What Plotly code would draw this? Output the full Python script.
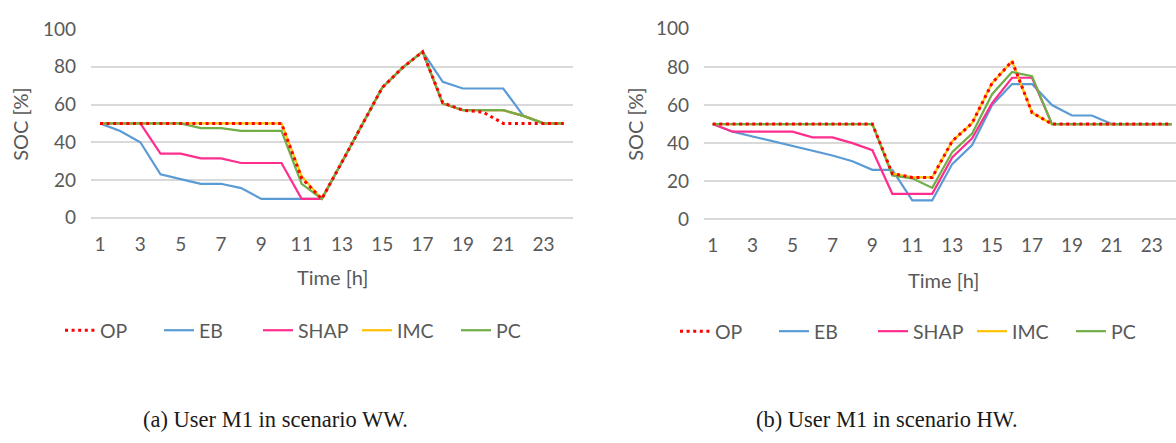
import plotly.graph_objects as go

# Hour of day (category axis)
hours = list(range(1, 25))
tick_hours = [1, 3, 5, 7, 9, 11, 13, 15, 17, 19, 21, 23]
soc_ticks = [0, 20, 40, 60, 80, 100]

# (a) User M1, scenario WW - state of charge [%]
op_ww = [50, 50, 50, 50, 50, 50, 50, 50, 50, 50, 21, 10, 29.5, 49.5, 69, 79.5, 88, 61, 57, 56, 50, 50, 50, 50]
eb_ww = [50, 46, 40, 23, 20.5, 18, 18, 15.7, 10, 10, 10, 10, 29.5, 49.5, 69, 79.5, 88, 72, 68.5, 68.5, 68.5, 54, 50, 50]
shap_ww = [50, 50, 50, 34, 34, 31.5, 31.5, 29, 29, 29, 10, 10, 29.5, 49.5, 69, 79.5, 88, 60.5, 57, 57, 57, 54, 50, 50]
imc_ww = [50, 50, 50, 50, 50, 50, 50, 50, 50, 50, 22, 10, 29.5, 49.5, 69, 79.5, 88, 60.5, 57, 57, 57, 54, 50, 50]
pc_ww = [50, 50, 50, 50, 50, 47.5, 47.5, 46, 46, 46, 18, 10, 29.5, 49.5, 69, 79.5, 88, 60.5, 57, 57, 57, 54, 50, 50]

# (b) User M1, scenario HW - state of charge [%]
op_hw = [50, 50, 50, 50, 50, 50, 50, 50, 50, 24, 22, 22, 41, 50.5, 71.5, 83, 56, 50, 50, 50, 50, 50, 50, 50]
eb_hw = [50, 46, 43.5, 41, 38.5, 36, 33.5, 30.5, 26, 26, 10, 10, 29, 39, 60, 71, 71, 60, 54.5, 54.5, 50, 50, 50, 50]
shap_hw = [50, 46, 46, 46, 46, 43, 43, 40, 36.3, 13.4, 13.4, 13.4, 32.5, 42.5, 61, 74.3, 74.3, 50, 50, 50, 50, 50, 50, 50]
imc_hw = [50, 50, 50, 50, 50, 50, 50, 50, 50, 24, 22, 22, 41, 50.5, 71.5, 83, 56, 50, 50, 50, 50, 50, 50, 50]
pc_hw = [50, 50, 50, 50, 50, 50, 50, 50, 50, 23, 21.5, 16.5, 35.3, 45, 65.7, 77.3, 75.1, 50, 50, 50, 50, 50, 50, 50]

methods = ["OP", "EB", "SHAP", "IMC", "PC"]
colors = {"OP": "#FF0000", "EB": "#5B9BD5", "SHAP": "#FF2D8E", "IMC": "#FFC000", "PC": "#70AD47"}
ww = {"OP": op_ww, "EB": eb_ww, "SHAP": shap_ww, "IMC": imc_ww, "PC": pc_ww}
hw = {"OP": op_hw, "EB": eb_hw, "SHAP": shap_hw, "IMC": imc_hw, "PC": pc_hw}

W, H = 1176, 443
TXT = "#595959"
GRID = "#D9D9D9"
FONT = "Lato, Carlito, 'Open Sans', sans-serif"
SERIF = "'Liberation Serif', 'Times New Roman', serif"

fig = go.Figure()

# draw order: EB, SHAP, IMC, PC, then the dotted OP on top
draw_order = ["EB", "SHAP", "IMC", "PC", "OP"]
for data, xa, ya, leg in [(ww, "x", "y", "legend"), (hw, "x2", "y2", "legend2")]:
    for m in draw_order:
        line = dict(color=colors[m], width=2.2)
        if m == "OP":
            line = dict(color=colors[m], width=3, dash="3px,3.6px")
        fig.add_trace(go.Scatter(
            x=hours, y=data[m], mode="lines", name=m, line=line,
            xaxis=xa, yaxis=ya, legend=leg,
            legendrank=methods.index(m) + 1, hoverinfo="skip",
        ))


def px_x(p):
    return p / W


def px_y(p):
    return 1 - p / H


xcommon = dict(
    tickmode="array", tickvals=tick_hours, showgrid=False, zeroline=False,
    showline=False, ticks="", tickfont=dict(size=19, color=TXT, family=FONT),
    ticklabelstandoff=13,
)
ycommon = dict(
    range=[0, 100], tickvals=soc_ticks, showgrid=True, gridcolor=GRID, gridwidth=1.5,
    zeroline=True, zerolinecolor=GRID, zerolinewidth=1.5, showline=False, ticks="",
    tickfont=dict(size=19, color=TXT, family=FONT), ticklabelstandoff=14,
)
legend_common = dict(orientation="h", xanchor="left", yanchor="middle", entrywidth=54,
                     font=dict(size=19.5, color=TXT, family=FONT), bgcolor="rgba(0,0,0,0)")

fig.update_layout(
    width=W, height=H, margin=dict(l=0, r=0, t=0, b=0),
    paper_bgcolor="white", plot_bgcolor="white",
    font=dict(family=FONT, color=TXT),
    xaxis=dict(domain=[px_x(91), px_x(573.4)], range=[0.553, 24.48], anchor="y", **xcommon),
    yaxis=dict(domain=[px_y(217), px_y(18)], anchor="x", **ycommon),
    xaxis2=dict(domain=[px_x(704), 1.0], range=[0.564, 24.215], anchor="y2", **xcommon),
    yaxis2=dict(domain=[px_y(218.7), px_y(17.7)], anchor="x2", **ycommon),
    legend=dict(x=px_x(60), y=px_y(336), **legend_common),
    legend2=dict(x=px_x(675), y=px_y(337), **legend_common),
)

annotations = [
    dict(text="Time [h]", x=px_x(333), y=px_y(280), font=dict(size=20)),
    dict(text="Time [h]", x=px_x(944), y=px_y(283), font=dict(size=20)),
    dict(text="SOC [%]", x=px_x(20), y=px_y(118), textangle=-90, font=dict(size=20)),
    dict(text="SOC [%]", x=px_x(635), y=px_y(118), textangle=-90, font=dict(size=20)),
    dict(text="(a) User M1 in scenario WW.", x=px_x(275), y=px_y(430),
         font=dict(size=22.5, family=SERIF, color="#1a1a1a")),
    dict(text="(b) User M1 in scenario HW.", x=px_x(887), y=px_y(430),
         font=dict(size=22.5, family=SERIF, color="#1a1a1a")),
]
for a in annotations:
    a.update(xref="paper", yref="paper", showarrow=False, xanchor="center", yanchor="middle")
    a["font"].setdefault("color", TXT)
    a["font"].setdefault("family", FONT)
fig.update_layout(annotations=annotations)

fig.write_html("out.html")
